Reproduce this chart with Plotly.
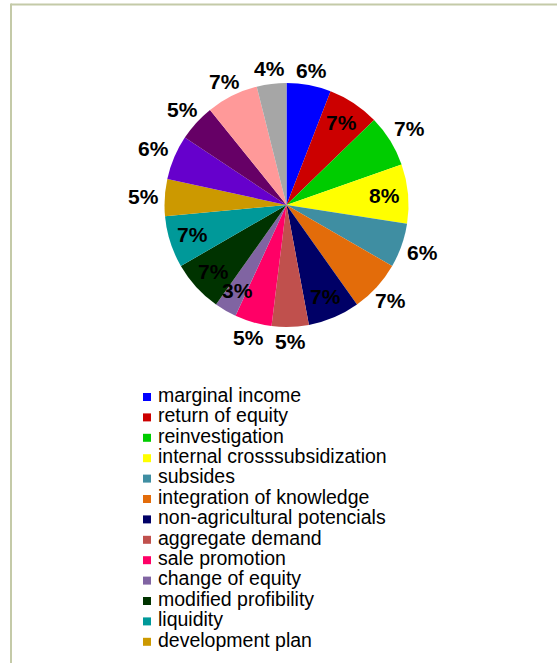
import math
import plotly.graph_objects as go

# Share of each factor (percent)
labels = [
    "marginal income", "return of equity", "reinvestigation",
    "internal crosssubsidization", "subsides", "integration of knowledge",
    "non-agricultural potencials", "aggregate demand", "sale promotion",
    "change of equity", "modified profibility", "liquidity",
    "development plan", "investment activity", "cooperation",
    "market position", "cost reduction",
]
values = [6, 7, 7, 8, 6, 7, 7, 5, 5, 3, 7, 7, 5, 6, 5, 7, 4]
colors = [
    "#0000ff", "#cc0000", "#00cc00", "#ffff00", "#3f8ea2", "#e36c0a",
    "#000066", "#c0504d", "#ff0066", "#8064a2", "#003300", "#009999",
    "#cc9900", "#6600cc", "#660066", "#ff9999", "#a6a6a6",
]
# which percentage labels sit inside their slice
inside = [False, True, False, True, False, False, True, False, False,
          True, True, True, False, False, False, False, False]

W, H = 557, 663
FONT = "Liberation Sans, Arial, sans-serif"

fig = go.Figure()

# pie placement (pixels)
cx, cy, r = 286.5, 205, 122
fig.add_trace(go.Pie(
    labels=labels,
    values=values,
    marker=dict(colors=colors, line=dict(width=0)),
    sort=False,
    direction="clockwise",
    rotation=0,
    textinfo="none",
    domain=dict(x=[(cx - r) / W, (cx + r) / W],
                y=[1 - (cy + r) / H, 1 - (cy - r) / H]),
    showlegend=False,
    hoverinfo="label+value",
))

# percentage labels placed along each slice's mid-angle
half_w, half_h, gap = 15, 9, 6
total = sum(values)
annotations = []
cum = 0
for v, ins in zip(values, inside):
    theta = 2 * math.pi * (cum + v / 2) / total
    cum += v
    s, c = math.sin(theta), math.cos(theta)
    if ins:
        d = r * 0.81
    else:
        ext = min(half_w / max(abs(s), 1e-6), half_h / max(abs(c), 1e-6))
        d = r + gap + ext
    annotations.append(dict(
        x=cx + d * s, y=cy - d * c, xref="x2", yref="y2",
        text=f"{v}%", showarrow=False, xanchor="center", yanchor="middle",
        font=dict(family=FONT, size=21, color="#000000", weight="bold"),
    ))

# key drawn as a small marker/text chart below the pie
row_h = 20.4
first_row = 397
clip_bottom = 654
n_rows = int((clip_bottom - first_row) / row_h) + 1
rows = list(range(n_rows))
y_top = -first_row / row_h
y_bot = y_top + clip_bottom / row_h

fig.add_trace(go.Scatter(
    x=[0] * n_rows, y=rows, mode="markers",
    marker=dict(symbol="square", size=8, color=colors[:n_rows],
                line=dict(width=0)),
    hoverinfo="skip", cliponaxis=True,
))
fig.add_trace(go.Scatter(
    x=[11] * n_rows, y=rows, mode="text", text=labels[:n_rows],
    textposition="middle right",
    textfont=dict(family=FONT, size=19.5, color="#000000"),
    hoverinfo="skip", cliponaxis=False,
))

fig.update_layout(
    width=W, height=H,
    margin=dict(l=0, r=0, t=0, b=0),
    paper_bgcolor="#ffffff",
    plot_bgcolor="rgba(0,0,0,0)",
    showlegend=False,
    xaxis=dict(visible=False, range=[-147, W - 147], domain=[0, 1],
               fixedrange=True),
    yaxis=dict(visible=False, range=[y_bot, y_top],
               domain=[(H - clip_bottom) / H, 1], fixedrange=True),
    xaxis2=dict(visible=False, range=[0, W], domain=[0, 1],
                fixedrange=True, anchor="y2"),
    yaxis2=dict(visible=False, range=[H, 0], domain=[0, 1],
                fixedrange=True, anchor="x2"),
    annotations=annotations,
    shapes=[
        dict(type="line", xref="paper", yref="paper",
             x0=11 / W, x1=1, y0=1 - 4.5 / H, y1=1 - 4.5 / H,
             line=dict(color="#c4caa8", width=2)),
        dict(type="line", xref="paper", yref="paper",
             x0=11 / W, x1=11 / W, y0=0, y1=1 - 3.5 / H,
             line=dict(color="#c4caa8", width=2)),
    ],
)

fig.write_html("out.html")
